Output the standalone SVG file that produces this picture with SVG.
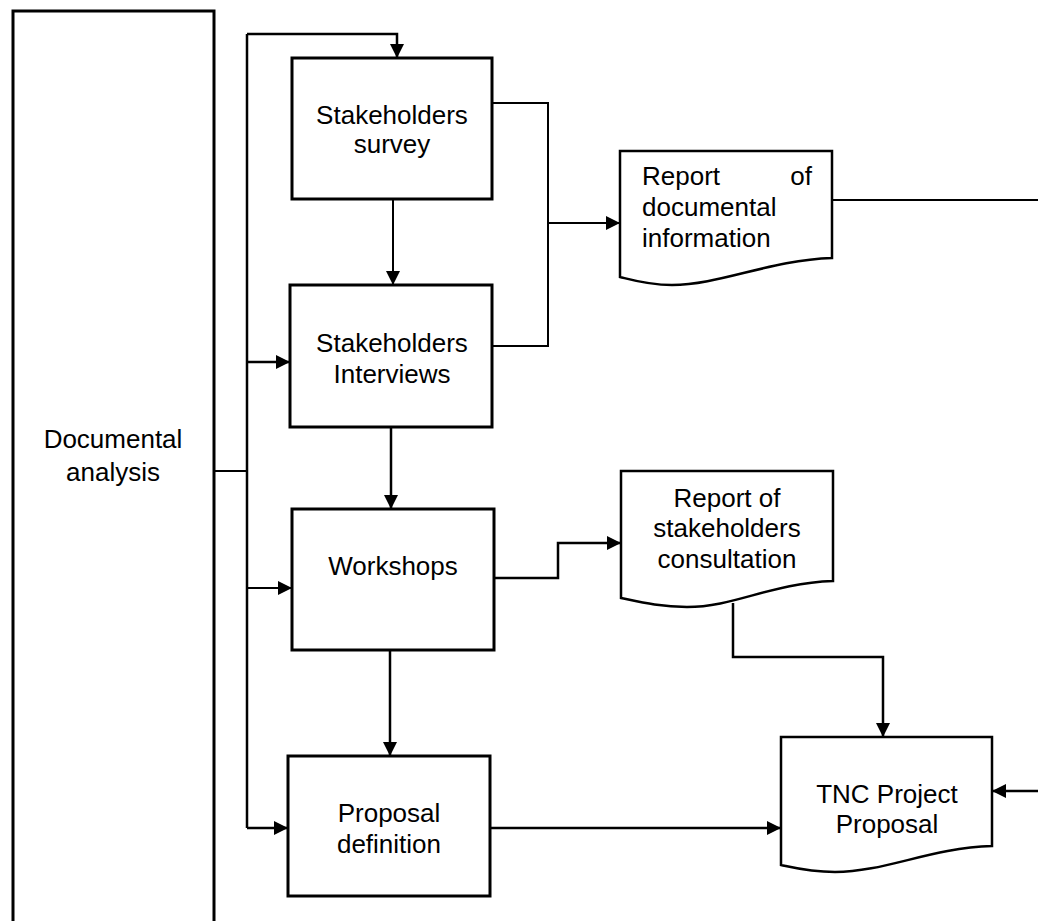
<svg xmlns="http://www.w3.org/2000/svg" width="1038" height="921" viewBox="0 0 1038 921">
<style>
.box{fill:#fff;stroke:#000;stroke-width:3}
.doc{fill:#fff;stroke:#000;stroke-width:2.5}
.t{font-family:"Liberation Sans",Arial,sans-serif;font-size:26px;fill:#000}
.c{fill:none;stroke:#000;stroke-width:2}
.c3{fill:none;stroke:#000;stroke-width:2.5}
</style>
<defs>
<marker id="ah" markerUnits="userSpaceOnUse" markerWidth="16" markerHeight="14" refX="14" refY="7" orient="auto">
<path d="M0,0 L14,7 L0,14 z" fill="#000"/>
</marker>
</defs>
<rect width="1038" height="921" fill="#fff"/>
<g id="documental-analysis">
<rect class="box" x="13" y="11" width="201" height="950"/>
<text class="t" x="113" y="448" text-anchor="middle">Documental</text>
<text class="t" x="113" y="481" text-anchor="middle">analysis</text>
</g>
<g id="stakeholders-survey">
<rect class="box" x="292" y="58" width="200" height="141"/>
<text class="t" x="392" y="124" text-anchor="middle">Stakeholders</text>
<text class="t" x="392" y="153" text-anchor="middle">survey</text>
</g>
<g id="stakeholders-interviews">
<rect class="box" x="290" y="285" width="202" height="142"/>
<text class="t" x="392" y="352" text-anchor="middle">Stakeholders</text>
<text class="t" x="392" y="383" text-anchor="middle">Interviews</text>
</g>
<g id="workshops">
<rect class="box" x="292" y="509" width="202" height="141"/>
<text class="t" x="393" y="575" text-anchor="middle">Workshops</text>
</g>
<g id="proposal-definition">
<rect class="box" x="288" y="756" width="202" height="140"/>
<text class="t" x="389" y="822" text-anchor="middle">Proposal</text>
<text class="t" x="389" y="853" text-anchor="middle">definition</text>
</g>
<g id="report-documental">
<path class="doc" d="M620,151 H832 V258 C770,260 720,285 672,285 C648,285 632,280 620,277 Z"/>
<text class="t" x="642" y="185">Report</text>
<text class="t" x="812" y="185" text-anchor="end">of</text>
<text class="t" x="642" y="216">documental</text>
<text class="t" x="642" y="247">information</text>
</g>
<g id="report-stakeholders">
<path class="doc" d="M621,471 H833 V581 C771,583 735,607 687,607 C660,607 640,602 621,598 Z"/>
<text class="t" x="727" y="507" text-anchor="middle">Report of</text>
<text class="t" x="727" y="537" text-anchor="middle">stakeholders</text>
<text class="t" x="727" y="568" text-anchor="middle">consultation</text>
</g>
<g id="tnc-project-proposal">
<path class="doc" d="M781,737 H992 V846 C930,848 885,872 835,872 C810,872 795,868 781,865 Z"/>
<text class="t" x="887" y="803" text-anchor="middle">TNC Project</text>
<text class="t" x="887" y="833" text-anchor="middle">Proposal</text>
</g>
<g id="connectors">
<path class="c3" d="M247,34 V828"/>
<path class="c3" d="M247,34 H397 V58" marker-end="url(#ah)"/>
<path class="c" d="M393,199 V285" marker-end="url(#ah)"/>
<path class="c3" d="M247,362 H290" marker-end="url(#ah)"/>
<path class="c" d="M214,471 H247"/>
<path class="c" d="M492,103 H548 V346 H492"/>
<path class="c" d="M548,223 H620" marker-end="url(#ah)"/>
<path class="c" d="M832,200 H1038"/>
<path class="c3" d="M391,427 V509" marker-end="url(#ah)"/>
<path class="c" d="M247,588 H292" marker-end="url(#ah)"/>
<path class="c3" d="M494,578 H558 V543 H621" marker-end="url(#ah)"/>
<path class="c3" d="M390,650 V756" marker-end="url(#ah)"/>
<path class="c3" d="M247,828 H288" marker-end="url(#ah)"/>
<path class="c3" d="M490,828 H781" marker-end="url(#ah)"/>
<path class="c3" d="M733,603 V657 H883 V737" marker-end="url(#ah)"/>
<path class="c3" d="M1038,791 H992" marker-end="url(#ah)"/>
</g>
</svg>
